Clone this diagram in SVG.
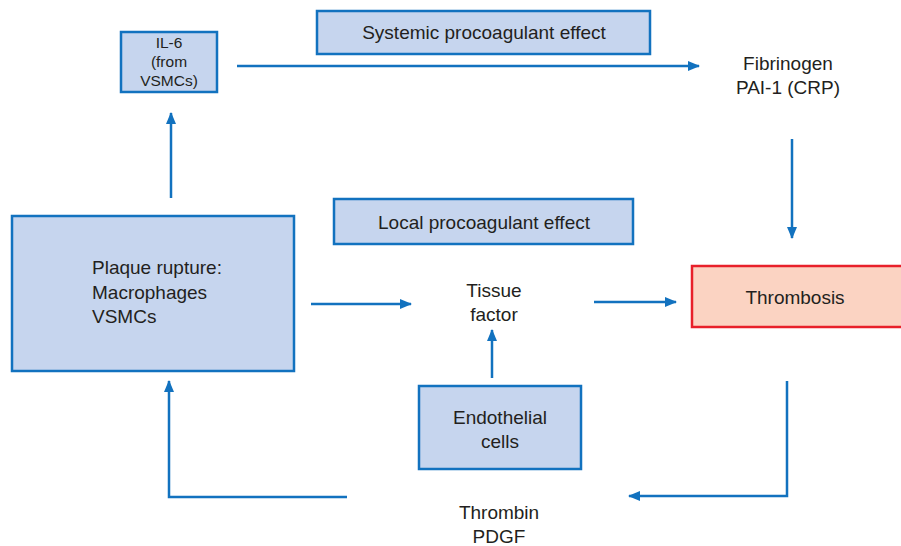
<svg xmlns="http://www.w3.org/2000/svg" width="901" height="546" viewBox="0 0 901 546">
<style>
.box{fill:#c6d5ee;stroke:#1272bf;stroke-width:2.5}
.hot{fill:#fbd3c2;stroke:#e8202a;stroke-width:2.5}
.t{font-family:"Liberation Sans",Arial,sans-serif;font-size:19px;fill:#231f20;text-anchor:middle}
.l{text-anchor:start}
.s{font-size:15.5px}
.c{fill:none;stroke:#1272bf;stroke-width:2.5}
</style>
<defs>
<marker id="ah" viewBox="0 0 12 10" refX="11" refY="5" markerWidth="12" markerHeight="10" markerUnits="userSpaceOnUse" orient="auto">
<path d="M0,0 L12,5 L0,10 Z" fill="#1272bf"/>
</marker>
</defs>
<g id="connectors">
<path class="c" d="M237,66 H699" marker-end="url(#ah)"/>
<path class="c" d="M171,198 V113" marker-end="url(#ah)"/>
<path class="c" d="M792,139 V238" marker-end="url(#ah)"/>
<path class="c" d="M311,304 H411" marker-end="url(#ah)"/>
<path class="c" d="M594,302 H676" marker-end="url(#ah)"/>
<path class="c" d="M492,378 V330" marker-end="url(#ah)"/>
<path class="c" d="M347,497 H169 V381" marker-end="url(#ah)"/>
<path class="c" d="M787,381 V496 H629" marker-end="url(#ah)"/>
</g>
<g id="il6">
<rect class="box" x="121" y="32" width="96" height="60"/>
<text class="t s" x="169" y="48">IL-6</text>
<text class="t s" x="169" y="67">(from</text>
<text class="t s" x="169" y="86">VSMCs)</text>
</g>
<g id="systemic">
<rect class="box" x="317" y="11" width="333" height="43"/>
<text class="t" x="484" y="39">Systemic procoagulant effect</text>
</g>
<g id="fibrinogen">
<text class="t" x="788" y="70">Fibrinogen</text>
<text class="t" x="788" y="94">PAI-1 (CRP)</text>
</g>
<g id="plaque">
<rect class="box" x="12" y="216" width="282" height="155"/>
<text class="t l" x="92" y="274">Plaque rupture:</text>
<text class="t l" x="92" y="299">Macrophages</text>
<text class="t l" x="92" y="323">VSMCs</text>
</g>
<g id="local">
<rect class="box" x="334" y="199" width="299" height="45"/>
<text class="t" x="484" y="229">Local procoagulant effect</text>
</g>
<g id="tissue">
<text class="t" x="494" y="297">Tissue</text>
<text class="t" x="494" y="321">factor</text>
</g>
<g id="thrombosis">
<rect class="hot" x="692" y="266" width="212" height="61"/>
<text class="t" x="795" y="304">Thrombosis</text>
</g>
<g id="endothelial">
<rect class="box" x="419" y="386" width="162" height="83"/>
<text class="t" x="500" y="424">Endothelial</text>
<text class="t" x="500" y="448">cells</text>
</g>
<g id="thrombin">
<text class="t" x="499" y="519">Thrombin</text>
<text class="t" x="499" y="543">PDGF</text>
</g>
</svg>
